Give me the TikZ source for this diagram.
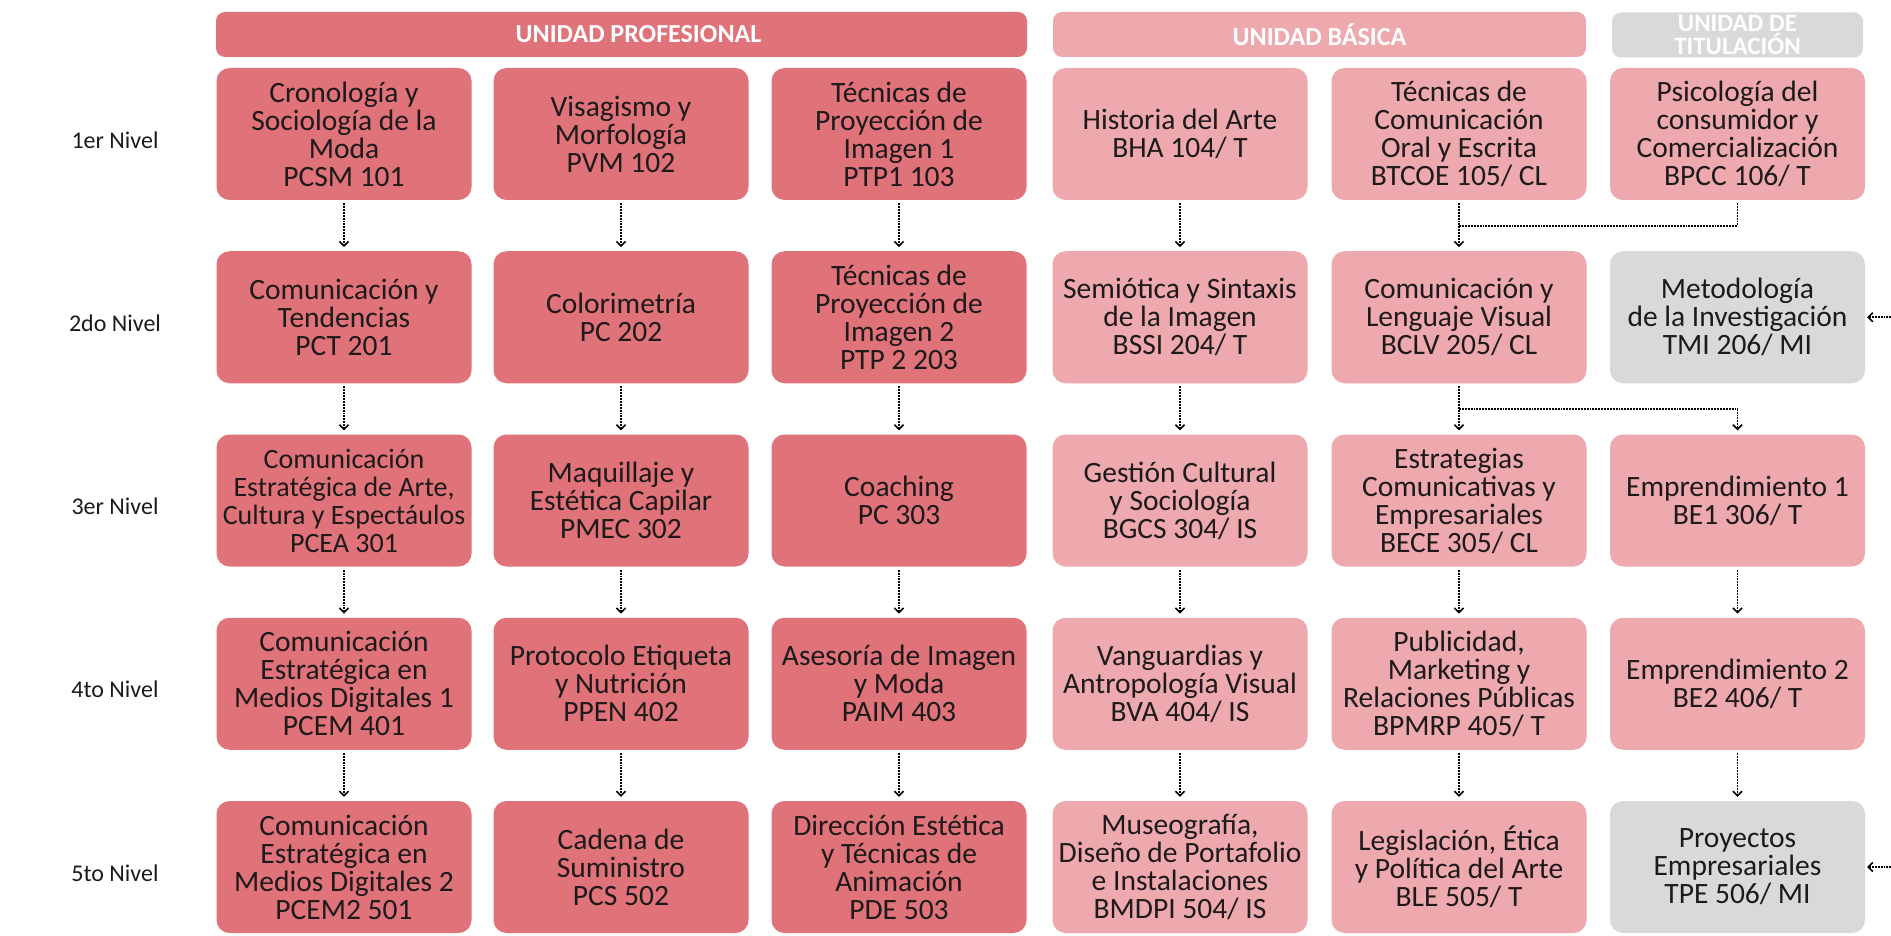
\documentclass[tikz,border=0pt]{standalone}
\usepackage{fontspec}
\setmainfont{Carlito}
\usetikzlibrary{arrows.meta,calc}
\definecolor{rojoprof}{RGB}{224,114,121}
\definecolor{rosabas}{RGB}{237,169,174}
\definecolor{gristit}{RGB}{217,217,217}
\definecolor{tinta}{RGB}{30,26,27}
\tikzset{
  materia/.style={rounded corners=13pt, minimum width=255pt, minimum height=132pt,
    inner sep=0pt, align=center, text=tinta, font=\fontsize{29.5}{28}\selectfont},
  unidad/.style={rounded corners=9pt, minimum height=45pt, inner sep=0pt,
    align=center, text=white, font=\bfseries\fontsize{26}{24}\selectfont},
  nivel/.style={text=tinta, font=\fontsize{24}{26}\selectfont},
  punteado/.style={densely dotted, line width=1.9pt},
  flecha/.style={punteado, -{Straight Barb[length=4.5pt,width=9pt,line width=1.6pt]},
    shorten <=3pt, shorten >=4pt}
}
\begin{document}
\begin{tikzpicture}[x=1pt,y=-1pt]
\useasboundingbox (0,0) rectangle (1891,936);
\def\colx{{344,621,899,1180,1459,1737.5}}
\newcommand{\materia}[4]{
  \pgfmathsetmacro{\x}{\colx[#2-1]}
  \pgfmathsetmacro{\y}{134+183.25*(#1-1)}
  \node[materia, fill=#3] (m#1#2) at (\x,\y) {#4};
}

% unidades
\node[unidad, fill=rojoprof, minimum width=811pt] (uprof) at (621.5,34.5) {\hspace*{34pt}UNIDAD PROFESIONAL};
\node[unidad, fill=rosabas, minimum width=533pt] (ubas) at (1319.5,34.5) {UNIDAD BÁSICA};
\node[unidad, fill=gristit, minimum width=251pt, font=\bfseries\fontsize{25}{19.5}\selectfont]
  (utit) at (1737.5,35) {UNIDAD DE\\TITULACIÓN};

% niveles
\foreach \n/\t in {1/1er,2/2do,3/3er,4/4to,5/5to}
  \node[nivel] (niv\n) at (115,{140+183.25*(\n-1)}) {\t{} Nivel};

% 1er nivel
\materia{1}{1}{rojoprof}{Cronología y\\Sociología de la\\Moda\\PCSM 101}
\materia{1}{2}{rojoprof}{Visagismo y\\Morfología\\PVM 102}
\materia{1}{3}{rojoprof}{Técnicas de\\Proyección de\\Imagen 1\\PTP1 103}
\materia{1}{4}{rosabas}{Historia del Arte\\BHA 104/ T}
\materia{1}{5}{rosabas}{Técnicas de\\Comunicación\\Oral y Escrita\\BTCOE 105/ CL}
\materia{1}{6}{rosabas}{Psicología del\\consumidor y\\Comercialización\\BPCC 106/ T}
% 2do nivel
\materia{2}{1}{rojoprof}{Comunicación y\\Tendencias\\PCT 201}
\materia{2}{2}{rojoprof}{Colorimetría\\PC 202}
\materia{2}{3}{rojoprof}{Técnicas de\\Proyección de\\Imagen 2\\PTP 2 203}
\materia{2}{4}{rosabas}{Semiótica y Sintaxis\\de la Imagen\\BSSI 204/ T}
\materia{2}{5}{rosabas}{Comunicación y\\Lenguaje Visual\\BCLV 205/ CL}
\materia{2}{6}{gristit}{Metodología\\de la Investigación\\TMI 206/ MI}
% 3er nivel
\materia{3}{1}{rojoprof, font=\fontsize{28}{28}\selectfont}{Comunicación\\Estratégica de Arte,\\Cultura y Espectáulos\\PCEA 301}
\materia{3}{2}{rojoprof}{Maquillaje y\\Estética Capilar\\PMEC 302}
\materia{3}{3}{rojoprof}{Coaching\\PC 303}
\materia{3}{4}{rosabas}{Gestión Cultural\\y Sociología\\BGCS 304/ IS}
\materia{3}{5}{rosabas}{Estrategias\\Comunicativas y\\Empresariales\\BECE 305/ CL}
\materia{3}{6}{rosabas}{Emprendimiento 1\\BE1 306/ T}
% 4to nivel
\materia{4}{1}{rojoprof}{Comunicación\\Estratégica en\\Medios Digitales 1\\PCEM 401}
\materia{4}{2}{rojoprof}{Protocolo Etiqueta\\y Nutrición\\PPEN 402}
\materia{4}{3}{rojoprof}{Asesoría de Imagen\\y Moda\\PAIM 403}
\materia{4}{4}{rosabas}{Vanguardias y\\Antropología Visual\\BVA 404/ IS}
\materia{4}{5}{rosabas}{Publicidad,\\Marketing y\\Relaciones Públicas\\BPMRP 405/ T}
\materia{4}{6}{rosabas}{Emprendimiento 2\\BE2 406/ T}
% 5to nivel
\materia{5}{1}{rojoprof}{Comunicación\\Estratégica en\\Medios Digitales 2\\PCEM2 501}
\materia{5}{2}{rojoprof}{Cadena de\\Suministro\\PCS 502}
\materia{5}{3}{rojoprof}{Dirección Estética\\y Técnicas de\\Animación\\PDE 503}
\materia{5}{4}{rosabas}{Museografía,\\Diseño de Portafolio\\e Instalaciones\\BMDPI 504/ IS}
\materia{5}{5}{rosabas}{Legislación, Ética\\y Política del Arte\\BLE 505/ T}
\materia{5}{6}{gristit}{Proyectos\\Empresariales\\TPE 506/ MI}

% flechas entre niveles
\foreach \c in {1,...,5} {
  \foreach \r in {1,...,4} {
    \pgfmathtruncatemacro{\s}{\r+1}
    \draw[flecha] (m\r\c) -- (m\s\c);
  }
}
\draw[flecha] (m36) -- (m46);
\draw[flecha] (m46) -- (m56);

% uniones
\coordinate (j1) at ($(m15.south)!.5!(m25.north)$);
\draw[punteado, shorten <=3pt] (m16.south) |- (j1);
\coordinate (j2) at ($(m25.south)!.5!(m35.north)$);
\draw[flecha, shorten <=0pt] (j2) -| (m36.north);

% entradas desde la derecha
\coordinate (borde2) at ($(m26.east)+(26,0)$);
\coordinate (borde5) at ($(m56.east)+(26,0)$);
\draw[flecha, shorten <=0pt, shorten >=2pt] (borde2) -- (m26.east);
\draw[flecha, shorten <=0pt, shorten >=2pt] (borde5) -- (m56.east);
\end{tikzpicture}
\end{document}
